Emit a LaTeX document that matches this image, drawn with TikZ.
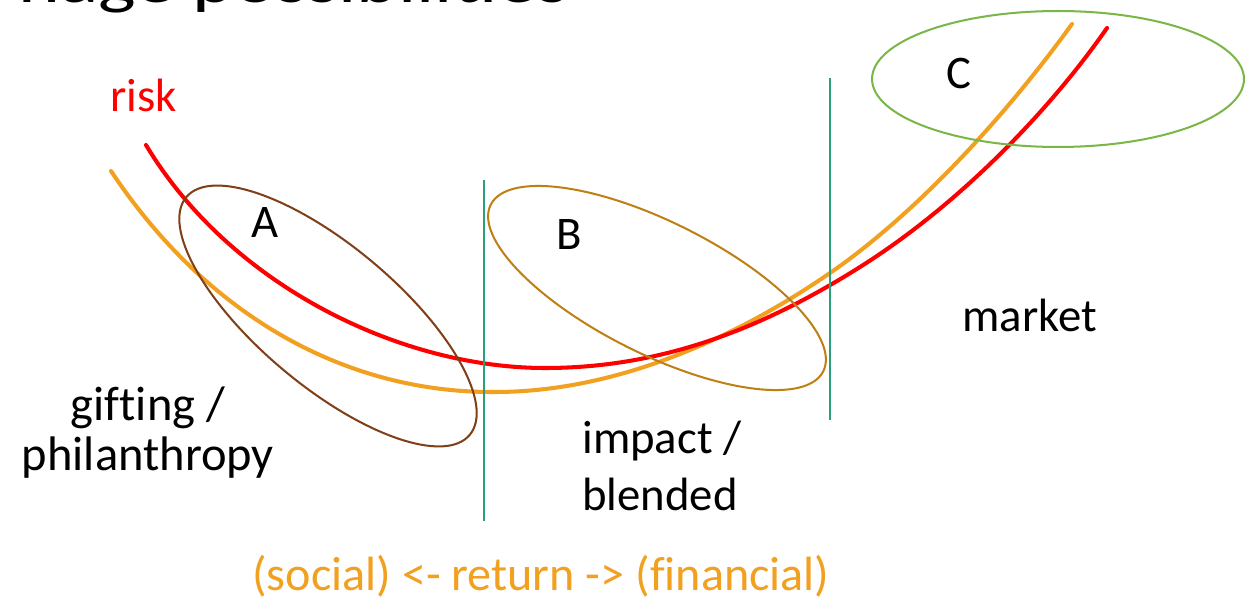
\documentclass[tikz,border=0pt]{standalone}
\usepackage{fontspec}
\setmainfont{Carlito}[Ligatures={NoCommon}]
\usepackage{graphicx}
\definecolor{riskred}{HTML}{FF0000}
\definecolor{retorange}{HTML}{F2A020}
\definecolor{abrown}{HTML}{7F3F17}
\definecolor{bgold}{HTML}{BE8014}
\definecolor{cgreen}{HTML}{7AB648}
\definecolor{divteal}{HTML}{2AA07A}
\tikzset{
  curveline/.style={line width=2.3pt, line cap=round},
  zone/.style={line width=1.15pt},
  divider/.style={draw=divteal, line width=1.1pt},
  lbl/.style={inner sep=0pt, font=\fontsize{26.6}{28.4}\selectfont},
}
\begin{document}
\begin{tikzpicture}[x=0.02cm, y=-0.02cm]
\useasboundingbox (0,0) rectangle (1250,597);
\clip (0,0) rectangle (1250,597);
% title (cut off at the top)
\node[lbl, anchor=base west, font=\fontsize{35.1}{40}\selectfont] (title) at (18,3) {\scalebox{1.29}[1]{nage possibilities}};
% return curve (orange)
\coordinate (o0) at (111,171);
\coordinate (o1) at (495,392);
\coordinate (o2) at (830,273);
\coordinate (o3) at (1072,24);
\draw[curveline, draw=retorange] (o0) .. controls (210,320) and (350,393) .. (o1)
  .. controls (620,392) and (740,335) .. (o2)
  .. controls (920,211) and (1010,110) .. (o3);
% risk curve (red)
\coordinate (r0) at (146,145);
\coordinate (r1) at (545,368);
\coordinate (r2) at (860,267);
\coordinate (r3) at (1107,28);
\draw[curveline, draw=riskred] (r0) .. controls (230,285) and (400,368) .. (r1)
  .. controls (660,368) and (760,330) .. (r2)
  .. controls (960,204) and (1050,110) .. (r3);
% zones
\draw[zone, draw=abrown, shift={(328,316)}, rotate=-40] (0,0) ellipse [x radius=3.7cm, y radius=1.4cm];
\draw[zone, draw=bgold, shift={(657,288)}, rotate=-26.6] (0,0) ellipse [x radius=3.72cm, y radius=1.32cm];
\draw[zone, draw=cgreen] (1058,79) ellipse [x radius=3.72cm, y radius=1.36cm];
% dividers
\coordinate (d1t) at (484,180); \coordinate (d1b) at (484,521);
\coordinate (d2t) at (830,78);  \coordinate (d2b) at (830,420);
\draw[divider] (d1t) -- (d1b);
\draw[divider] (d2t) -- (d2b);
% labels
\node[lbl, anchor=base west, text=riskred] (risk) at (110,112) {risk};
\node[lbl, anchor=base] (A) at (265.5,238) {A};
\node[lbl, anchor=base] (B) at (569,250) {B};
\node[lbl, anchor=base] (C) at (959,89) {C};
\node[lbl, anchor=base west] (market) at (962,332) {market};
\node[lbl, anchor=north, align=center, font=\fontsize{27.6}{28.6}\selectfont] (gift) at (148,386) {gifting /\\philanthropy};
\node[lbl, anchor=north west, align=left, font=\fontsize{26.6}{32.3}\selectfont] (impact) at (582,421) {impact /\\blended};
\node[lbl, anchor=base west, text=retorange, font=\fontsize{27.4}{29}\selectfont] (ret) at (252,590) {(social) <- return -> (financial)};
\end{tikzpicture}
\end{document}
